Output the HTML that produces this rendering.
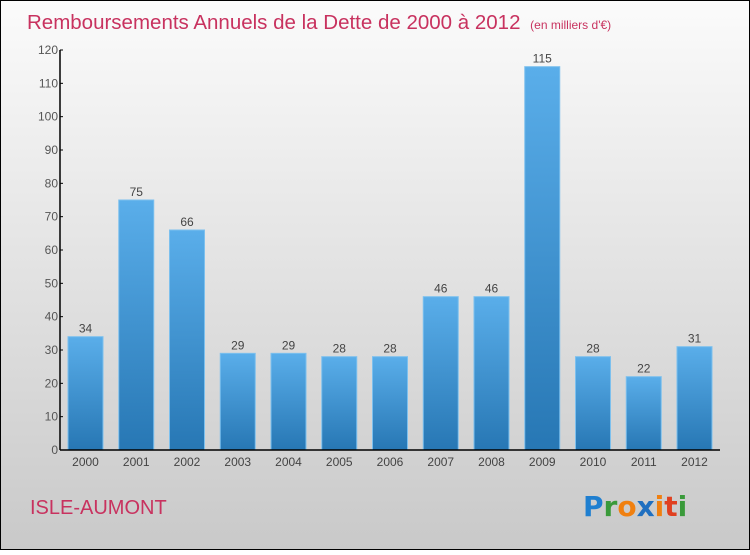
<!DOCTYPE html>
<html><head><meta charset="utf-8"><style>
html,body{margin:0;padding:0}
body{width:750px;height:550px;overflow:hidden;font-family:"Liberation Sans",sans-serif}
</style></head><body>
<svg width="750" height="550" xmlns="http://www.w3.org/2000/svg">
<defs>
<linearGradient id="bg" x1="0" y1="0" x2="0" y2="1"><stop offset="0" stop-color="#fbfbfb"/><stop offset="1" stop-color="#c9c9c9"/></linearGradient>
<linearGradient id="bar" x1="0" y1="0" x2="0" y2="1"><stop offset="0" stop-color="#5aaeea"/><stop offset="1" stop-color="#2777b4"/></linearGradient>
</defs>
<rect x="0.5" y="0.5" width="749" height="549" fill="url(#bg)" stroke="#000"/>
<text x="27" y="29" font-size="20.5" fill="#c8325f">Remboursements Annuels de la Dette de 2000 à 2012 <tspan font-size="12" dx="4">(en milliers d'€)</tspan></text>
<g id="yaxis"></g>
<g id="bars"></g>
<g id="xaxis"></g>
<text x="30" y="514" font-size="20" fill="#c8325f">ISLE-AUMONT</text>
<g font-size="28" font-weight="bold" font-family="'DejaVu Sans',sans-serif">
<text x="583" y="516"><tspan fill="#1f7fd0">P</tspan><tspan fill="#3a9a3a">r</tspan><tspan fill="#f08010">o</tspan><tspan fill="#1f6fc0">x</tspan><tspan fill="#f08010">i</tspan><tspan fill="#e04020">t</tspan><tspan fill="#3a9a3a">i</tspan></text>
</g>
</svg>
<script>
const categories=["2000","2001","2002","2003","2004","2005","2006","2007","2008","2009","2010","2011","2012"];
const values=[34,75,66,29,29,28,28,46,46,115,28,22,31];
const yTicks=[0,10,20,30,40,50,60,70,80,90,100,110,120];
const NS="http://www.w3.org/2000/svg";
const y0=450,yTop=50,yMax=120,x0=60,xEnd=720;
const y=v=>y0-(v/yMax)*(y0-yTop);
const step=50.75,first=85.5,bw=35;
const x=i=>first+i*step;
function mk(tag,attrs,parent){const e=document.createElementNS(NS,tag);for(const k in attrs)e.setAttribute(k,attrs[k]);parent.appendChild(e);return e;}
const ya=document.getElementById('yaxis'),xa=document.getElementById('xaxis'),bg=document.getElementById('bars');
let l=mk('line',{x1:x0,y1:yTop,x2:x0,y2:y0,stroke:'#000','stroke-width':1.5},ya);


yTicks.forEach(t=>{
 const tk=mk('line',{x1:x0,y1:y(t),x2:x0+3,y2:y(t),stroke:'#000'},ya);
 
 
 const tx=mk('text',{x:x0-2,y:y(t)+4,'text-anchor':'end','font-size':12,fill:'#555'},ya);
 tx.textContent=t;
 
 
});
values.forEach((v,i)=>{
 const r=mk('rect',{x:x(i)-bw/2,y:y(v),width:bw,height:y0-y(v),fill:'url(#bar)',stroke:'#7cc0ee','stroke-width':1},bg);
 
 
 const t=mk('text',{x:x(i),y:y(v)-4,'text-anchor':'middle','font-size':12,fill:'#444'},bg);
 t.textContent=v;
 
 
 const c=mk('text',{x:x(i),y:466,'text-anchor':'middle','font-size':12,fill:'#444'},xa);
 c.textContent=categories[i];
 
 
});
l=mk('line',{x1:x0,y1:y0,x2:xEnd,y2:y0,stroke:'#000','stroke-width':1.5},xa);


</script>
</body></html>
